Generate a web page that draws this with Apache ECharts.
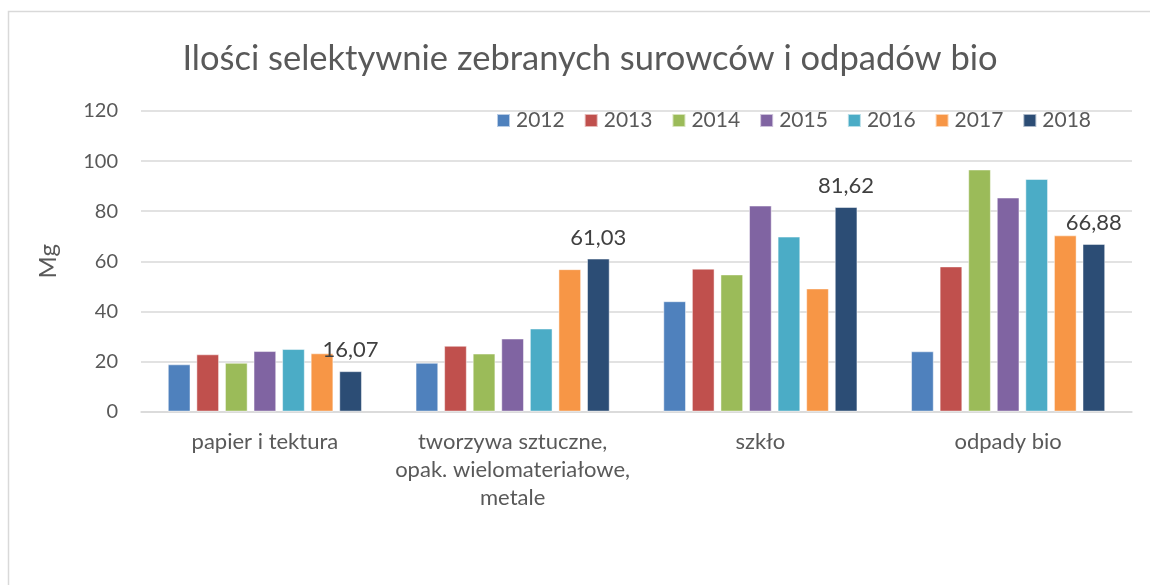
<!DOCTYPE html>
<html>
<head>
<meta charset="utf-8">
<script src="https://cdn.jsdelivr.net/npm/echarts@6/dist/echarts.min.js"></script>
<style>
  html, body { margin: 0; padding: 0; background: #fff; }
  #main { width: 1150px; height: 585px; }
</style>
</head>
<body>
<div id="main"></div>
<script>
var myChart = echarts.init(document.getElementById("main"));

var categories = ['papier i tektura', 'tworzywa sztuczne,\nopak. wielomateriałowe,\nmetale', 'szkło', 'odpady bio'];
var years = ['2012', '2013', '2014', '2015', '2016', '2017', '2018'];
var v2012 = [18.8, 19.4, 44.0, 24.0];
var v2013 = [22.8, 26.2, 57.0, 57.9];
var v2014 = [19.4, 23.1, 54.7, 96.6];
var v2015 = [24.1, 29.1, 82.2, 85.4];
var v2016 = [24.9, 33.1, 69.8, 92.8];
var v2017 = [23.2, 56.8, 49.1, 70.3];
var v2018 = [16.07, 61.03, 81.62, 66.88];
var yTicks = [0, 20, 40, 60, 80, 100, 120];

var colors = ['#4F81BD', '#C0504D', '#9BBB59', '#8064A2', '#4BACC6', '#F79646', '#2C4D75'];
var values = [v2012, v2013, v2014, v2015, v2016, v2017, v2018];
var font = 'Lato, "Open Sans", sans-serif';

var series = years.map(function (y, i) {
    var s = {
        name: y,
        type: 'bar',
        data: values[i],
        barWidth: 22.5,
        barGap: '27%',
        itemStyle: { color: colors[i], borderColor: 'rgba(255,255,255,0.6)', borderWidth: 0.8 }
    };
    if (y === '2018') {
        // etykiety tylko dla ostatniego roku
        s.label = {
            show: true,
            position: 'top',
            distance: 10,
            color: '#404040',
            fontSize: 22,
            fontFamily: font,
            formatter: function (p) { return p.value.toFixed(2).replace('.', ','); }
        };
    }
    return s;
});

var option = {
    backgroundColor: '#fff',
    color: colors,
    animation: false,
    title: {
        text: 'Ilości selektywnie zebranych surowców i odpadów bio',
        left: 585,
        top: 36,
        textAlign: 'center',
        textStyle: { fontFamily: font, fontWeight: 'normal', fontSize: 34.5, color: '#595959' }
    },
    graphic: [{
        type: 'rect',
        shape: { x: 8.5, y: 11.5, width: 1200, height: 700 },
        style: { fill: 'none', stroke: '#d9d9d9', lineWidth: 1.5 },
        silent: true
    }],
    legend: {
        data: years,
        left: 496,
        top: 110,
        padding: 0,
        itemWidth: 13,
        itemHeight: 13,
        itemGap: 19,
        icon: 'rect',
        textStyle: { fontFamily: font, fontSize: 21, color: '#595959', padding: [0, 0, 0, 1] }
    },
    grid: { left: 141, right: 18, top: 111, bottom: 173.5 },
    xAxis: {
        type: 'category',
        data: categories,
        axisLine: { lineStyle: { color: '#d9d9d9', width: 1.5 } },
        axisTick: { show: false },
        axisLabel: { fontFamily: font, fontSize: 22, color: '#595959', lineHeight: 28, margin: 16, interval: 0 }
    },
    yAxis: {
        type: 'value',
        min: yTicks[0],
        max: yTicks[yTicks.length - 1],
        interval: 20,
        name: 'Mg',
        nameLocation: 'middle',
        nameGap: 81,
        nameTextStyle: { fontFamily: font, fontSize: 24, color: '#595959' },
        axisLine: { show: false },
        axisTick: { show: false },
        axisLabel: { fontFamily: font, fontSize: 20, color: '#595959', margin: 23 },
        splitLine: { lineStyle: { color: '#d9d9d9', width: 1.5 } }
    },
    series: series
};

myChart.setOption(option);
</script>
</body>
</html>
